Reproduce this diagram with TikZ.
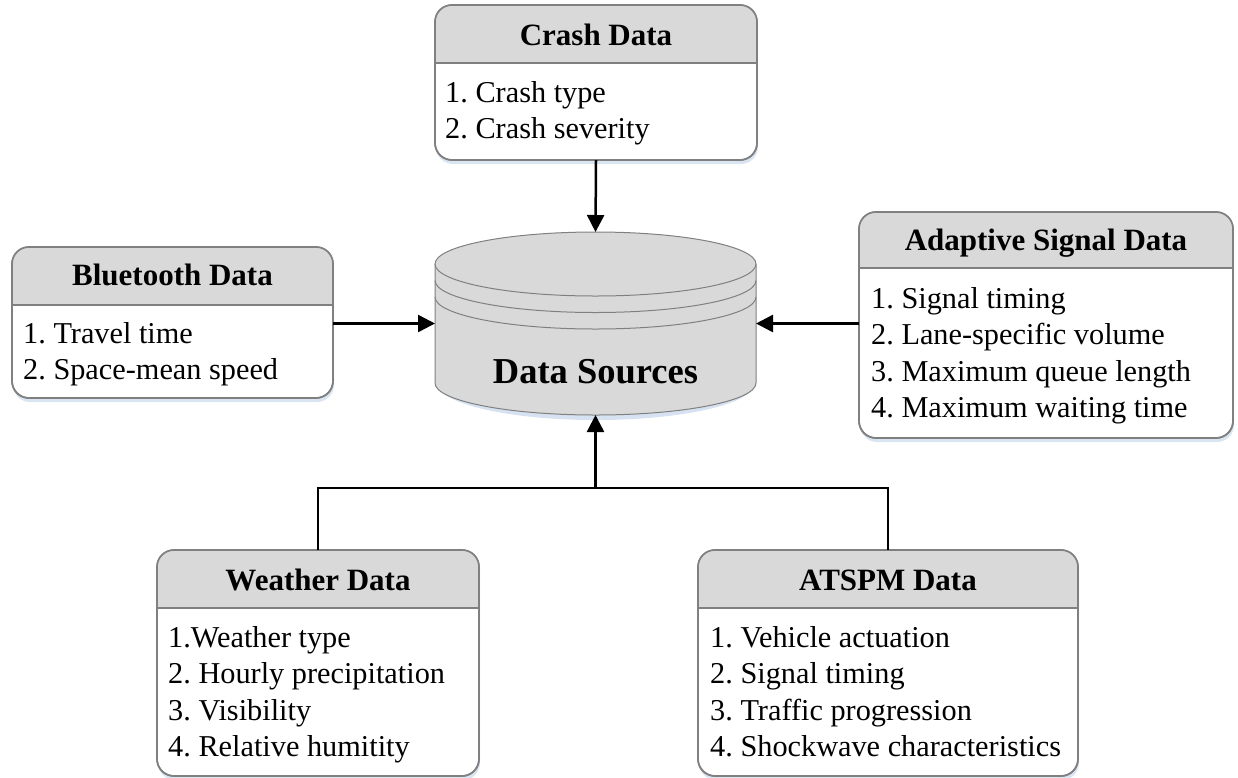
\documentclass[tikz,border=0pt]{standalone}
\usepackage{fontspec}
\setmainfont{Liberation Serif}
\usetikzlibrary{arrows.meta,shadows}
\frenchspacing

\definecolor{headgray}{HTML}{D9D9D9}
\definecolor{edgegray}{HTML}{808080}
\definecolor{glow}{HTML}{D6E2F1}

\tikzset{
  boxbody/.style={draw=edgegray, line width=1.6pt, fill=white, rounded corners=17pt,
    inner sep=0pt, outer sep=0pt,
    drop shadow={shadow xshift=1pt, shadow yshift=-4pt, fill=glow, opacity=0.9}},
  boxedge/.style={draw=edgegray, line width=1.6pt},
  boxtitle/.style={anchor=base, inner sep=0pt, font=\fontsize{31}{36}\selectfont\bfseries},
  boxitems/.style={anchor=base west, inner sep=0pt, font=\fontsize{30.3}{36.6}\selectfont},
  wire/.style={line width=2.5pt},
  feed/.style={wire, -{Triangle[length=17pt,width=17pt]}},
  cylface/.style={fill=headgray},
  cyledge/.style={draw=edgegray, line width=1pt},
}

% #1 name, #2 left, #3 top, #4 right, #5 bottom, #6 header rule, #7 title baseline, #8 title
\newcommand\databox[8]{%
  \node[boxbody, minimum width={(#4-#2)*1pt}, minimum height={(#5-#3)*1pt}]
    (#1) at ({(#2+#4)/2},{(#3+#5)/2}) {};
  \begin{scope}
    \clip[rounded corners=17pt] (#2,#3) rectangle (#4,#5);
    \fill[headgray] (#2,#3) rectangle (#4,#6);
  \end{scope}
  \draw[boxedge] (#2,#6) -- (#4,#6);
  \draw[boxedge, rounded corners=17pt] (#2,#3) rectangle (#4,#5);
  \node[boxtitle] (#1-title) at ({(#2+#4)/2},#7) {#8};
}
\newcommand\itemlines[1]{\begin{tabular}[t]{@{}l@{}}#1\end{tabular}}

\begin{document}
\begin{tikzpicture}[x=1pt, y=-1pt]
  \useasboundingbox (0,0) rectangle (1238,777);

  % ---- central store (cylinder) ----
  \fill[glow] (437,383) arc[start angle=180, end angle=360, x radius=159pt, y radius=37pt] -- cycle;
  \fill[cylface] (435,264) -- (435,383)
     arc[start angle=180, end angle=360, x radius=160.5pt, y radius=32pt]
     -- (756,264) arc[start angle=0, end angle=180, x radius=160.5pt, y radius=32pt] -- cycle;
  \draw[cyledge] (435,264) -- (435,383)
     arc[start angle=180, end angle=360, x radius=160.5pt, y radius=32pt] -- (756,264);
  \draw[cyledge, cylface] (595.5,264) ellipse [x radius=160.5pt, y radius=32pt];
  \draw[cyledge] (435,280.5) arc[start angle=180, end angle=360, x radius=160.5pt, y radius=32pt];
  \draw[cyledge] (435,297) arc[start angle=180, end angle=360, x radius=160.5pt, y radius=32pt];
  \node[inner sep=0pt, outer sep=0pt, minimum width=321pt, minimum height=183pt]
    (ds) at (595.5,323.5) {};
  \node[anchor=base, inner sep=0pt, font=\fontsize{36.5}{42}\selectfont\bfseries]
    (ds-label) at (595.5,383) {Data Sources};

  % ---- sources ----
  \databox{crash}{435}{5}{757}{160}{63}{45}{Crash Data}
  \node[boxitems] (crash-items) at (445,102)
    {\itemlines{1. Crash type\\2. Crash severity}};

  \databox{bt}{12}{247}{333}{398}{305}{285}{Bluetooth Data}
  \node[boxitems] (bt-items) at (23,343)
    {\itemlines{1. Travel time\\2. Space-mean speed}};

  \databox{asd}{859}{212}{1233}{438}{268}{250}{Adaptive Signal Data}
  \node[boxitems] (asd-items) at (871,308)
    {\itemlines{1. Signal timing\\2. Lane-specific volume\\3. Maximum queue length\\4. Maximum waiting time}};

  \databox{wx}{157}{550}{479}{776}{608}{590}{Weather Data}
  \node[boxitems] (wx-items) at (168,647)
    {\itemlines{1.Weather type\\2. Hourly precipitation\\3. Visibility\\4. Relative humitity}};

  \databox{atspm}{698}{550}{1078}{776}{608}{590}{ATSPM Data}
  \node[boxitems] (atspm-items) at (710,647)
    {\itemlines{1. Vehicle actuation\\2. Signal timing\\3. Traffic progression\\4. Shockwave characteristics}};

  % ---- connectors ----
  \draw[feed] (crash.south) -- (ds.north);
  \draw[feed] (bt.east |- ds.west) -- (ds.west);
  \draw[feed] (asd.west |- ds.east) -- (ds.east);
  \coordinate (merge) at (595.5,488);
  \draw[wire] (wx.north) |- (merge);
  \draw[wire] (atspm.north) |- (merge);
  \draw[feed] (merge) -- (ds.south);
\end{tikzpicture}
\end{document}
